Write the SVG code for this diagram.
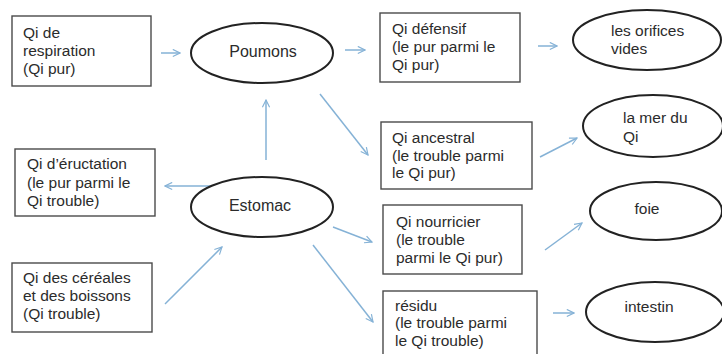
<svg xmlns="http://www.w3.org/2000/svg" width="722" height="354" viewBox="0 0 722 354">
<defs>
<style>
.box{fill:#fff;stroke:#4a4a4a;stroke-width:1.4}
.ell{fill:#fff;stroke:#222;stroke-width:2}
.t{font-family:"Liberation Sans",Arial,sans-serif;font-size:15.5px;fill:#2b2b2b}
.c{text-anchor:middle}
.arr{stroke:#85b2d6;stroke-width:1.5;fill:none;marker-end:url(#ah)}
</style>
<marker id="ah" viewBox="0 0 10 10" refX="9" refY="5" markerWidth="9" markerHeight="9" markerUnits="userSpaceOnUse" orient="auto">
<path d="M1,1 L9,5 L1,9" fill="none" stroke="#85b2d6" stroke-width="1.3"/>
</marker>
</defs>
<rect width="722" height="354" fill="#fff"/>
<g id="connectors">
<line class="arr" x1="161" y1="53" x2="180" y2="53"/>
<line class="arr" x1="345" y1="50" x2="365" y2="50"/>
<line class="arr" x1="266" y1="160" x2="266" y2="100"/>
<line class="arr" x1="320" y1="94" x2="368" y2="155"/>
<line class="arr" x1="215" y1="186" x2="165" y2="186"/>
<line class="arr" x1="165" y1="304" x2="222" y2="247"/>
<line class="arr" x1="333" y1="227" x2="372" y2="242"/>
<line class="arr" x1="313" y1="245" x2="373" y2="322"/>
<line class="arr" x1="538" y1="46" x2="557" y2="46"/>
<line class="arr" x1="540" y1="157" x2="577" y2="138"/>
<line class="arr" x1="545" y1="250" x2="582" y2="223"/>
<line class="arr" x1="553" y1="313" x2="574" y2="313"/>
</g>
<g id="respiration">
<rect class="box" x="12" y="16" width="139" height="70"/>
<text class="t" x="23" y="38">Qi de</text>
<text class="t" x="23" y="56">respiration</text>
<text class="t" x="23" y="74">(Qi pur)</text>
</g>
<g id="poumons">
<ellipse class="ell" cx="262" cy="53" rx="71" ry="30"/>
<text class="t c" x="263" y="57" style="font-size:16px">Poumons</text>
</g>
<g id="eructation">
<rect class="box" x="15" y="149" width="140" height="67"/>
<text class="t" x="27" y="169">Qi d’éructation</text>
<text class="t" x="27" y="188">(le pur parmi le</text>
<text class="t" x="27" y="206">Qi trouble)</text>
</g>
<g id="estomac">
<ellipse class="ell" cx="262" cy="207" rx="71" ry="30"/>
<text class="t c" x="260" y="211" style="font-size:16px">Estomac</text>
</g>
<g id="cereales">
<rect class="box" x="12" y="263" width="140" height="69"/>
<text class="t" x="23" y="283">Qi des céréales</text>
<text class="t" x="23" y="301">et des boissons</text>
<text class="t" x="23" y="319">(Qi trouble)</text>
</g>
<g id="defensif">
<rect class="box" x="380" y="13" width="140" height="69"/>
<text class="t" x="392" y="34">Qi défensif</text>
<text class="t" x="392" y="52">(le pur parmi le</text>
<text class="t" x="392" y="70">Qi pur)</text>
</g>
<g id="ancestral">
<rect class="box" x="381" y="122" width="151" height="67"/>
<text class="t" x="392" y="143">Qi ancestral</text>
<text class="t" x="392" y="161">(le trouble parmi</text>
<text class="t" x="392" y="178">le Qi pur)</text>
</g>
<g id="nourricier">
<rect class="box" x="383" y="205" width="139" height="69"/>
<text class="t" x="396" y="227">Qi nourricier</text>
<text class="t" x="396" y="245">(le trouble</text>
<text class="t" x="396" y="263">parmi le Qi pur)</text>
</g>
<g id="residu">
<rect class="box" x="383" y="291" width="154" height="70"/>
<text class="t" x="395" y="311">résidu</text>
<text class="t" x="395" y="328">(le trouble parmi</text>
<text class="t" x="395" y="346">le Qi trouble)</text>
</g>
<g id="orifices">
<ellipse class="ell" cx="647" cy="40" rx="74" ry="30"/>
<text class="t" x="611" y="36">les orifices</text>
<text class="t" x="611" y="54">vides</text>
</g>
<g id="mer">
<ellipse class="ell" cx="653" cy="126" rx="70" ry="31"/>
<text class="t" x="623" y="123">la mer du</text>
<text class="t" x="623" y="142">Qi</text>
</g>
<g id="foie">
<ellipse class="ell" cx="656" cy="211" rx="66" ry="29"/>
<text class="t c" x="647" y="214">foie</text>
</g>
<g id="intestin">
<ellipse class="ell" cx="655" cy="312" rx="69" ry="30"/>
<text class="t c" x="649" y="312">intestin</text>
</g>
</svg>
